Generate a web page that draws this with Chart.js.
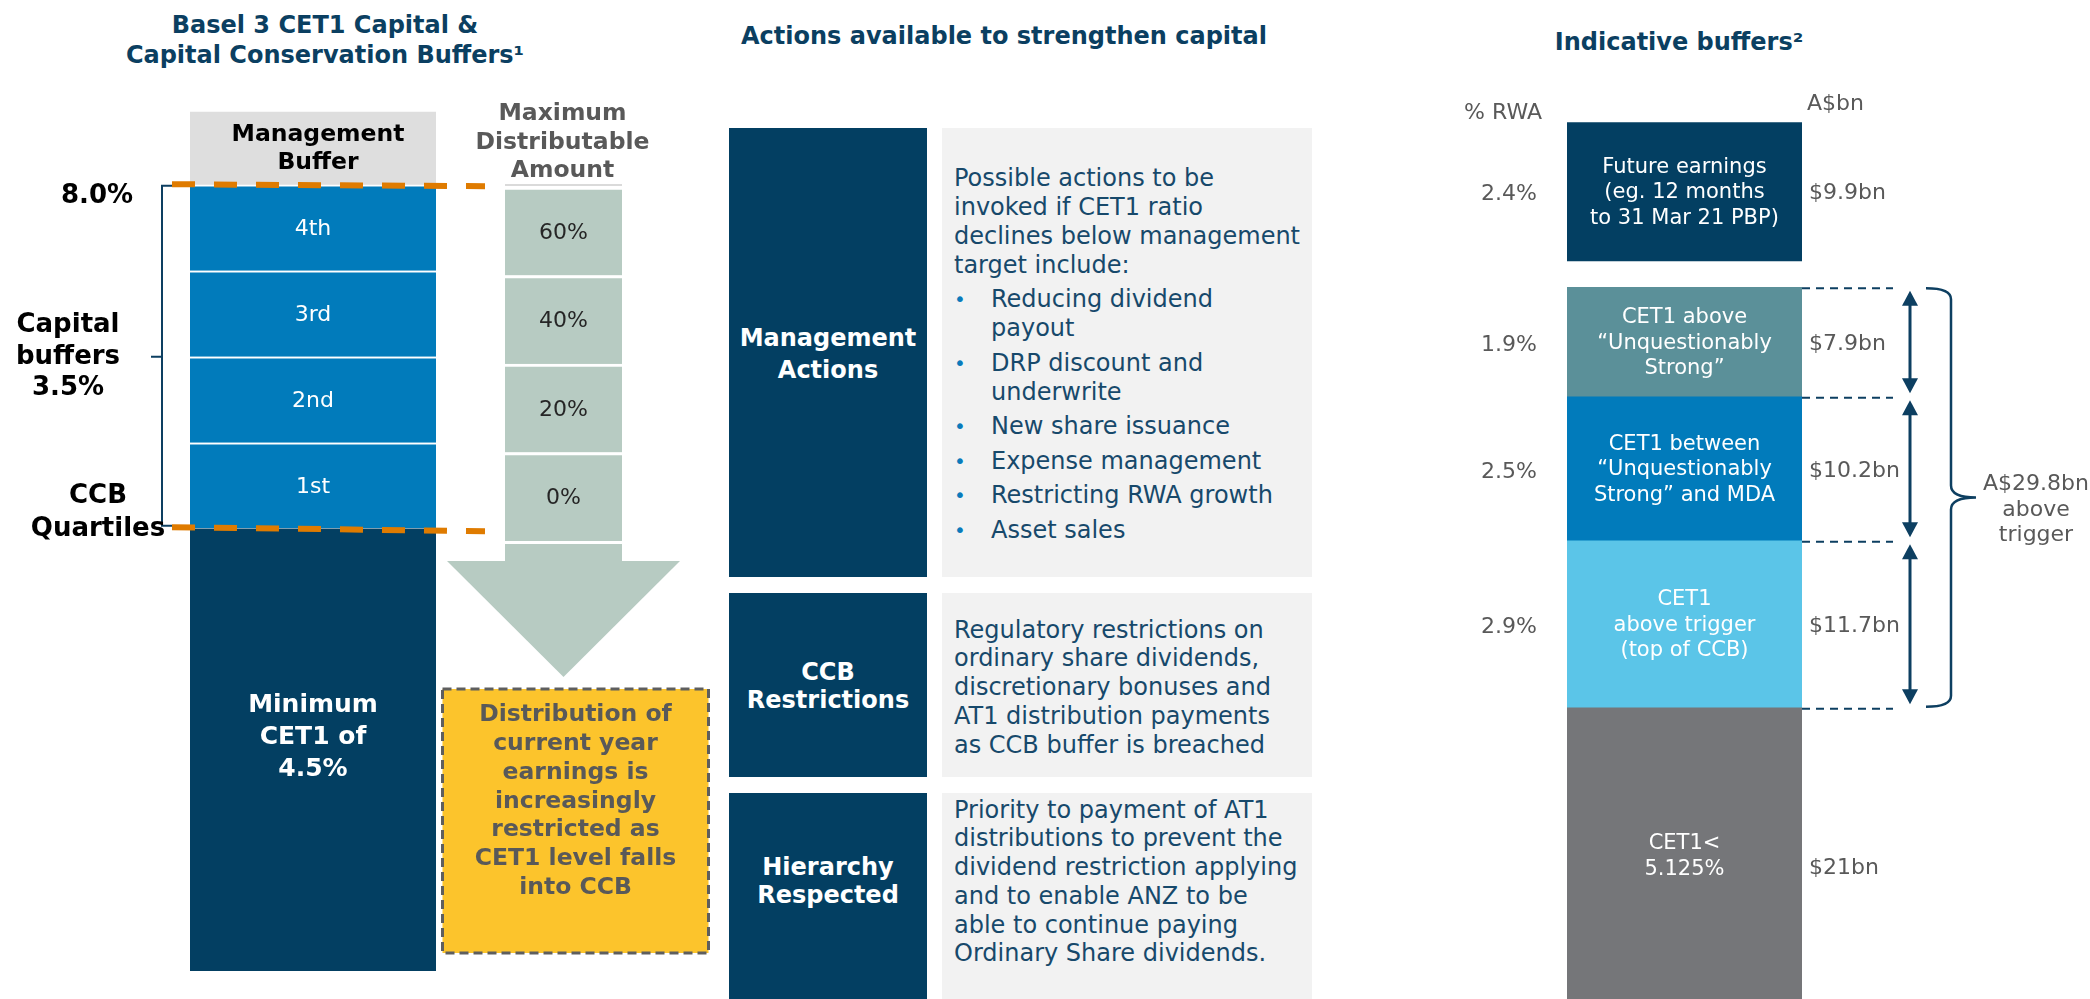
<!DOCTYPE html>
<html><head><meta charset="utf-8">
<script src="https://cdn.jsdelivr.net/npm/chart.js@4.4.1/dist/chart.umd.min.js"></script>
<style>
html,body{margin:0;padding:0;background:#fff;}
body{width:2090px;height:999px;position:relative;overflow:hidden;font-family:"DejaVu Sans",sans-serif;}
canvas{position:absolute;}
.title{position:absolute;color:#0b3f61;font-weight:bold;font-size:24px;text-align:center;line-height:30px;white-space:nowrap;}
.navy{position:absolute;background:#033f62;color:#fff;}
.grey{position:absolute;background:#f2f2f2;}
.lt{position:absolute;color:#fff;font-weight:bold;font-size:24px;text-align:center;white-space:nowrap;width:198px;}
.rt{position:absolute;color:#17496b;font-size:24px;white-space:nowrap;line-height:28.7px;}
.rt .b{position:relative;padding-left:37px;margin-top:5.5px;}
.rt .b:before{content:"•";position:absolute;left:0;top:0;color:#0a7bbb;font-size:20px;}
</style></head><body>

<div class="title" style="left:25px;top:10px;width:600px">Basel 3 CET1 Capital &amp;<br>Capital Conservation Buffers¹</div>
<div class="title" style="left:654px;top:21px;width:700px">Actions available to strengthen capital</div>
<div class="title" style="left:1379px;top:27px;width:600px">Indicative buffers²</div>

<!-- middle panel -->
<div class="navy" style="left:729px;top:128px;width:198px;height:449px"></div>
<div class="grey" style="left:942px;top:128px;width:370px;height:449px"></div>
<div class="lt" style="left:729px;top:322px;line-height:32px">Management<br>Actions</div>
<div class="rt" style="left:954px;top:163.5px;line-height:29px">
<div>Possible actions to be<br>invoked if CET1 ratio<br>declines below management<br>target include:</div>
<div class="b">Reducing dividend<br>payout</div>
<div class="b">DRP discount and<br>underwrite</div>
<div class="b">New share issuance</div>
<div class="b">Expense management</div>
<div class="b">Restricting RWA growth</div>
<div class="b">Asset sales</div>
</div>

<div class="navy" style="left:729px;top:593px;width:198px;height:184px"></div>
<div class="grey" style="left:942px;top:593px;width:370px;height:184px"></div>
<div class="lt" style="left:729px;top:658px;line-height:28px">CCB<br>Restrictions</div>
<div class="rt" style="left:954px;top:615.7px">Regulatory restrictions on<br>ordinary share dividends,<br>discretionary bonuses and<br>AT1 distribution payments<br>as CCB buffer is breached</div>

<div class="navy" style="left:729px;top:793px;width:198px;height:210px"></div>
<div class="grey" style="left:942px;top:793px;width:370px;height:210px"></div>
<div class="lt" style="left:729px;top:853px;line-height:28px">Hierarchy<br>Respected</div>
<div class="rt" style="left:954px;top:795.7px">Priority to payment of AT1<br>distributions to prevent the<br>dividend restriction applying<br>and to enable ANZ to be<br>able to continue paying<br>Ordinary Share dividends.</div>

<canvas id="cA" width="700" height="999" style="left:0;top:0"></canvas>
<canvas id="cB" width="290" height="999" style="left:440px;top:0"></canvas>
<canvas id="cC" width="690" height="1004" style="left:1400px;top:0"></canvas>

<script>
// ---------- DATA ----------
const cet1Layers = ['Minimum', '1st', '2nd', '3rd', '4th', 'Management Buffer'];
const cet1Values = [4.5, 0.875, 0.875, 0.875, 0.875, 0.74];   // % of RWA
const mdaValues = [0, 20, 40, 60];                              // % distributable per CCB quartile
const bufferLines = [
  ['CET1<', '5.125%'],
  ['CET1', 'above trigger', '(top of CCB)'],
  ['CET1 between', '\u201CUnquestionably', 'Strong\u201D and MDA'],
  ['CET1 above', '\u201CUnquestionably', 'Strong\u201D'],
  ['Future earnings', '(eg. 12 months', 'to 31 Mar 21 PBP)']
];
const bufferPctRWA = [5.125, 2.9, 2.5, 1.9, 2.4];
const bufferBn = [21, 11.7, 10.2, 7.9, 9.9];
const mdaHeader = ['Maximum', 'Distributable', 'Amount'];
const yellowLines = ['Distribution of', 'current year', 'earnings is', 'increasingly', 'restricted as', 'CET1 level falls', 'into CCB'];

// ---------- STYLE ----------
const NAVY = '#033f62', LINE = '#0d3f61', GREYTXT = '#595959', SAGE = '#b7cbc2';
const cet1Colors = ['#033f62', '#017bbb', '#017bbb', '#017bbb', '#017bbb', '#dedede'];
const bufferColors = ['#757679', '#5bc5e8', '#017bbb', '#5b9099', '#033f62'];
const SPACER = 0.46;
const F = '"DejaVu Sans"';

const baseOpts = (pad, yMax) => ({
  responsive: false, animation: false, events: [],
  layout: { padding: pad },
  plugins: { legend: { display: false }, tooltip: { enabled: false } },
  scales: { x: { display: false, stacked: true }, y: { display: false, stacked: true, min: 0, max: yMax } }
});

// ---------- LEFT: CET1 stack ----------
const leftPlugin = {
  id: 'leftAnno',
  afterDatasetsDraw(chart) {
    const { ctx, chartArea: ca, scales: { y } } = chart;
    const el = i => chart.getDatasetMeta(i).data[0];
    ctx.save();
    ctx.textAlign = 'center'; ctx.textBaseline = 'middle';
    for (let i = 1; i <= 4; i++) {
      const e = el(i);
      ctx.fillStyle = '#fff'; ctx.font = '22px ' + F;
      ctx.fillText(cet1Layers[i], e.x, (e.y + e.base) / 2 + 2);
    }
    const m = el(5), mc = (m.y + m.base) / 2;
    ctx.fillStyle = '#000'; ctx.font = 'bold 23.5px ' + F;
    ctx.fillText('Management', m.x + 5, mc - 13);
    ctx.fillText('Buffer', m.x + 5, mc + 15);
    const n = el(0), nc = (n.y + n.base) / 2;
    ctx.fillStyle = '#fff'; ctx.font = 'bold 25px ' + F;
    ['Minimum', 'CET1 of', cet1Values[0].toFixed(1) + '%'].forEach((t, k) => ctx.fillText(t, n.x, nc - 44 + k * 32));

    const total = cet1Values.slice(0, 5).reduce((a, b) => a + b, 0);
    const ccb = total - cet1Values[0];
    const yTop = y.getPixelForValue(total), yBot = y.getPixelForValue(cet1Values[0]);
    const mid = (yTop + yBot) / 2;
    // bracket
    ctx.strokeStyle = LINE; ctx.lineWidth = 2;
    ctx.beginPath();
    ctx.moveTo(ca.left - 18, yTop + 1); ctx.lineTo(ca.left - 28, yTop + 1);
    ctx.lineTo(ca.left - 28, yBot - 3); ctx.lineTo(ca.left - 18, yBot - 3);
    ctx.moveTo(ca.left - 28, mid); ctx.lineTo(ca.left - 39, mid);
    ctx.stroke();
    // orange dashed lines
    ctx.strokeStyle = '#df7b00'; ctx.lineWidth = 6; ctx.setLineDash([23, 19]);
    ctx.beginPath();
    ctx.moveTo(ca.left - 18, yTop - 0.5); ctx.lineTo(ca.right + 49, yTop + 1.5);
    ctx.moveTo(ca.left - 18, yBot - 1.5); ctx.lineTo(ca.right + 49, yBot + 2.5);
    ctx.stroke();
    ctx.setLineDash([]);
    // side labels
    ctx.fillStyle = '#000'; ctx.font = 'bold 26px ' + F;
    ctx.fillText(total.toFixed(1) + '%', ca.left - 93, yTop + 12);
    ['Capital', 'buffers', ccb.toFixed(1) + '%'].forEach((t, k) => ctx.fillText(t, ca.left - 122, mid - 31 + k * 31.5));
    ctx.fillText('CCB', ca.left - 92, yBot - 32);
    ctx.fillText('Quartiles', ca.left - 92, yBot + 1);
    ctx.restore();
  }
};

new Chart(document.getElementById('cA'), {
  type: 'bar',
  data: {
    labels: ['CET1'],
    datasets: cet1Layers.map((name, i) => ({
      label: name, data: [cet1Values[i]], backgroundColor: cet1Colors[i],
      borderColor: '#ffffff', borderSkipped: false,
      borderWidth: (i >= 1 && i <= 4) ? { top: 2, bottom: i === 1 ? 1 : 0, left: 0, right: 0 } : 0,
      categoryPercentage: 1, barPercentage: 1
    }))
  },
  options: baseOpts({ left: 190, right: 264, top: 111, bottom: 28 }, 8.75),
  plugins: [leftPlugin]
});

// ---------- MDA column ----------
const quartile = cet1Values[1];
const mdaPlugin = {
  id: 'mdaAnno',
  afterDatasetsDraw(chart) {
    const { ctx, chartArea: ca } = chart;
    const els = mdaValues.map((v, i) => chart.getDatasetMeta(i).data[0]);
    ctx.save();
    ctx.textAlign = 'center'; ctx.textBaseline = 'middle';
    ctx.fillStyle = '#262626'; ctx.font = '22px ' + F;
    els.forEach((e, i) => ctx.fillText(mdaValues[i] + '%', e.x, (e.y + e.base) / 2 + 2));
    const cx = els[0].x, half = els[0].width / 2;
    ctx.fillStyle = '#dadada'; ctx.fillRect(cx - half, ca.top - 3, half * 2, 2);
    ctx.fillStyle = GREYTXT; ctx.font = 'bold 23.5px ' + F;
    mdaHeader.forEach((t, k) => ctx.fillText(t, cx - 1, ca.top - 73 + k * 28.5));
    // arrow
    ctx.fillStyle = SAGE;
    const s0 = ca.bottom + 3, h0 = ca.bottom + 20;
    ctx.fillRect(cx - half, s0, half * 2, h0 - s0);
    ctx.beginPath();
    ctx.moveTo(cx - half - 58, h0); ctx.lineTo(cx + half + 58, h0); ctx.lineTo(cx, h0 + 116); ctx.closePath(); ctx.fill();
    // yellow note
    const yt = h0 + 128, yb = yt + 264, xl = cx - 121, xr = cx + 145;
    ctx.fillStyle = '#fcc42c'; ctx.fillRect(xl, yt, xr - xl, yb - yt);
    ctx.strokeStyle = '#5e5e5e'; ctx.lineWidth = 3; ctx.setLineDash([9, 5]);
    ctx.strokeRect(xl, yt, xr - xl, yb - yt);
    ctx.setLineDash([]);
    ctx.fillStyle = GREYTXT; ctx.font = 'bold 23.5px ' + F;
    yellowLines.forEach((t, k) => ctx.fillText(t, (xl + xr) / 2, yt + 26 + k * 28.8));
    ctx.restore();
  }
};

new Chart(document.getElementById('cB'), {
  type: 'bar',
  data: {
    labels: ['MDA'],
    datasets: mdaValues.map((v, i) => ({
      label: v + '%', data: [quartile], backgroundColor: SAGE,
      borderColor: '#ffffff', borderSkipped: false,
      borderWidth: { top: 3, bottom: 0, left: 0, right: 0 },
      categoryPercentage: 1, barPercentage: 1
    }))
  },
  options: baseOpts({ left: 65, right: 108, top: 187, bottom: 458 }, quartile * mdaValues.length),
  plugins: [mdaPlugin]
});

// ---------- RIGHT: indicative buffers ----------
const bufferDs = [0, 1, 2, 3, 5];
const rightPlugin = {
  id: 'rightAnno',
  afterDatasetsDraw(chart) {
    const { ctx, chartArea: ca } = chart;
    const segs = bufferDs.map(d => chart.getDatasetMeta(d).data[0]);
    ctx.save();
    ctx.textBaseline = 'middle';
    segs.forEach((e, i) => {
      const cy = (e.y + e.base) / 2;
      ctx.fillStyle = '#fff'; ctx.font = '21px ' + F; ctx.textAlign = 'center';
      const L = bufferLines[i], n = L.length;
      L.forEach((t, k) => ctx.fillText(t, e.x, cy + 1 + (k - (n - 1) / 2) * 25.5));
      ctx.fillStyle = GREYTXT; ctx.font = '22px ' + F;
      if (i > 0) { ctx.textAlign = 'right'; ctx.fillText(bufferPctRWA[i].toFixed(1) + '%', ca.left - 30, cy + 3); }
      ctx.textAlign = 'left';
      ctx.fillText('$' + bufferBn[i] + 'bn', ca.right + 7, i === 0 ? cy + 13 : cy + 2);
    });
    ctx.textAlign = 'right'; ctx.fillText('% RWA', ca.left - 25, ca.top - 3);
    ctx.textAlign = 'left'; ctx.fillText('A$bn', ca.right + 5, ca.top - 12);

    // dashed guides
    const ys = [segs[3].y, segs[2].y, segs[1].y, segs[1].base];
    ctx.strokeStyle = LINE; ctx.lineWidth = 2; ctx.setLineDash([8, 6]);
    ctx.beginPath();
    ys.forEach(yy => { ctx.moveTo(ca.right, yy + 1); ctx.lineTo(ca.right + 91, yy + 1); });
    ctx.stroke();
    ctx.setLineDash([]);
    // double arrows
    const ax = ca.right + 108;
    ctx.fillStyle = LINE; ctx.lineWidth = 3;
    [1, 2, 3].forEach(i => {
      const y1 = segs[i].y + 3.5, y2 = segs[i].base - 3.5;
      ctx.beginPath(); ctx.moveTo(ax, y1 + 12); ctx.lineTo(ax, y2 - 12); ctx.stroke();
      ctx.beginPath(); ctx.moveTo(ax, y1); ctx.lineTo(ax - 8, y1 + 15); ctx.lineTo(ax + 8, y1 + 15); ctx.closePath(); ctx.fill();
      ctx.beginPath(); ctx.moveTo(ax, y2); ctx.lineTo(ax - 8, y2 - 15); ctx.lineTo(ax + 8, y2 - 15); ctx.closePath(); ctx.fill();
    });
    // brace
    const top = segs[3].y, bot = segs[1].base, mid = (top + bot) / 2;
    const b0 = ca.right + 124, b1 = ca.right + 149, b2 = ca.right + 174;
    ctx.lineWidth = 2.5;
    ctx.beginPath();
    ctx.moveTo(b0, top + 1);
    ctx.quadraticCurveTo(b1, top + 1, b1, top + 12);
    ctx.lineTo(b1, mid - 12);
    ctx.quadraticCurveTo(b1, mid, b2, mid);
    ctx.quadraticCurveTo(b1, mid, b1, mid + 12);
    ctx.lineTo(b1, bot - 12);
    ctx.quadraticCurveTo(b1, bot - 1, b0, bot - 1);
    ctx.stroke();
    const above = bufferBn[1] + bufferBn[2] + bufferBn[3];
    ctx.fillStyle = GREYTXT; ctx.font = '22px ' + F; ctx.textAlign = 'center';
    ['A$' + above.toFixed(1) + 'bn', 'above', 'trigger'].forEach((t, k) => ctx.fillText(t, ca.right + 234, mid - 13 + k * 25.5));
    ctx.restore();
  }
};

const rightDatasets = [];
bufferPctRWA.forEach((v, i) => {
  if (i === 4) rightDatasets.push({ label: 'spacer', data: [SPACER], backgroundColor: 'rgba(0,0,0,0)', categoryPercentage: 1, barPercentage: 1 });
  rightDatasets.push({ label: bufferLines[i].join(' '), data: [v], backgroundColor: bufferColors[i], borderWidth: 0, categoryPercentage: 1, barPercentage: 1 });
});

new Chart(document.getElementById('cC'), {
  type: 'bar',
  data: { labels: ['Buffers'], datasets: rightDatasets },
  options: baseOpts({ left: 167, right: 288, top: 116, bottom: 1 }, 15.4),
  plugins: [rightPlugin]
});
</script>
</body></html>
